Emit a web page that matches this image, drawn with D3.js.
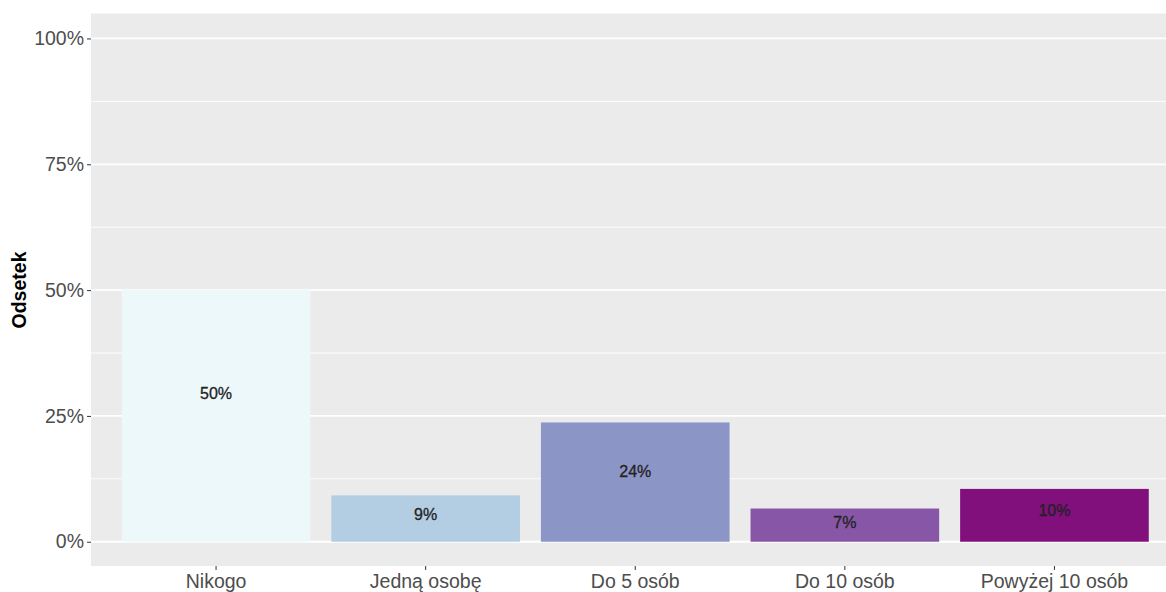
<!DOCTYPE html>
<html><head><meta charset="utf-8">
<script src="https://cdn.jsdelivr.net/npm/d3@7"></script>
<style>body{margin:0;background:#fff}svg{display:block}text{font-family:"Liberation Sans",Arial,sans-serif}</style>
</head><body><svg id="c" width="1166" height="592"></svg>
<script>
const categories = ["Nikogo","Jedną osobę","Do 5 osób","Do 10 osób","Powyżej 10 osób"];
const values = [50, 9.2, 23.7, 6.6, 10.5];
const labels = ["50%","9%","24%","7%","10%"];
const colors = ["#edf8fb","#b3cde3","#8c96c6","#8856a7","#810f7c"];
const yTicks = [0,25,50,75,100];
const yTickLabels = ["0%","25%","50%","75%","100%"];
const yMinor = [12.5,37.5,62.5,87.5];

const svg = d3.select("#c");
const panel = {left:91, top:13.5, right:1166, bottom:566};
const x = d3.scaleBand().domain(categories).range([90.3, 1180.2]).paddingInner(0.1).paddingOuter(0.15);
const y = d3.scaleLinear().domain([-5,105]).range([566.9, 13.3]);

svg.append("rect").attr("x",panel.left).attr("y",panel.top).attr("width",panel.right-panel.left).attr("height",panel.bottom-panel.top).attr("fill","#ebebeb");

svg.selectAll(".minor").data(yMinor).join("line")
  .attr("x1",panel.left).attr("x2",panel.right).attr("y1",d=>y(d)).attr("y2",d=>y(d))
  .attr("stroke","#fff").attr("stroke-width",0.9);
svg.selectAll(".major").data(yTicks).join("line")
  .attr("x1",panel.left).attr("x2",panel.right).attr("y1",d=>y(d)).attr("y2",d=>y(d))
  .attr("stroke","#fff").attr("stroke-width",1.8);

svg.selectAll(".bar").data(values).join("rect")
  .attr("x",(d,i)=>x(categories[i])).attr("width",x.bandwidth())
  .attr("y",d=>y(d)).attr("height",d=>y(0)-y(d))
  .attr("fill",(d,i)=>colors[i]);

svg.selectAll(".lbl").data(values).join("text")
  .attr("x",(d,i)=>x(categories[i])+x.bandwidth()/2)
  .attr("y",d=>y(d*0.59)).attr("dy","0.35em")
  .attr("text-anchor","middle").attr("font-size",16).attr("fill","#222")
  .attr("stroke","#222").attr("stroke-width",0.3)
  .text((d,i)=>labels[i]);

const yAxis = d3.axisLeft(y).tickValues(yTicks).tickFormat((d,i)=>yTickLabels[i]).tickSize(4).tickPadding(3);
const gy = svg.append("g").attr("transform",`translate(${panel.left},0)`).call(yAxis);
gy.select(".domain").remove();
gy.selectAll(".tick line").attr("stroke","#333");
gy.selectAll(".tick text").attr("font-size",19.5).attr("fill","#4d4d4d").attr("font-family","Liberation Sans, Arial, sans-serif");

const xAxis = d3.axisBottom(x).tickSize(4).tickPadding(4);
const gx = svg.append("g").attr("transform",`translate(0,${panel.bottom})`).call(xAxis);
gx.select(".domain").remove();
gx.selectAll(".tick line").attr("stroke","#333");
gx.selectAll(".tick text").attr("font-size",19.5).attr("fill","#4d4d4d").attr("font-family","Liberation Sans, Arial, sans-serif");

svg.append("text").attr("transform","translate(26,290) rotate(-90)")
  .attr("text-anchor","middle").attr("font-size",19.5).attr("font-weight","bold").attr("fill","#000")
  .text("Odsetek");
</script></body></html>
